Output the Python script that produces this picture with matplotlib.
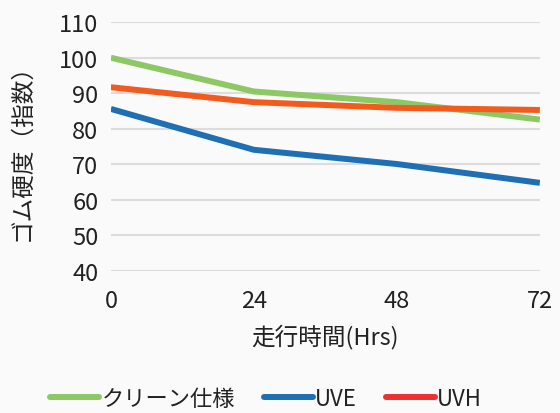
import matplotlib
matplotlib.use("Agg")
import matplotlib.pyplot as plt
from matplotlib.lines import Line2D

hours = [0, 24, 48, 72]
clean = [100.0, 90.5, 87.5, 82.6]
uve = [85.6, 74.1, 70.1, 64.8]
uvh = [91.7, 87.5, 85.9, 85.3]
series_names = ["クリーン仕様", "UVE", "UVH"]
y_ticks = [40, 50, 60, 70, 80, 90, 100, 110]

plt.rcParams["font.family"] = ["Noto Sans CJK JP", "DejaVu Sans"]

fig = plt.figure(figsize=(5.6, 4.14), dpi=100, facecolor="#fafafa")
ax = fig.add_axes([0.198, 0.343, 0.766, 0.601])
ax.set_facecolor("#fafafa")

ax.plot(hours, clean, color="#8cc864", lw=4.3, solid_capstyle="butt", zorder=3)
ax.plot(hours, uve, color="#1f6fb5", lw=4.3, solid_capstyle="butt", zorder=3)
ax.plot(hours, uvh, color="#f25a1e", lw=4.3, solid_capstyle="butt", zorder=4)

ax.set_xlim(0, 72); ax.set_ylim(40, 110)
ax.set_xticks(hours); ax.set_yticks(y_ticks)
ax.grid(axis="y", color="#dcdcdc", lw=1.5)
ax.set_axisbelow(True)
for s in ax.spines.values():
    s.set_visible(False)
ax.tick_params(length=0, labelsize=17, labelcolor="#222222")
ax.tick_params(axis="y", pad=9)
ax.tick_params(axis="x", pad=13)

ax.set_xlabel("走行時間(Hrs)", fontsize=17, color="#222222", labelpad=8)
fig.text(0.04, 0.645, "ゴム硬度（指数）", rotation=90, fontsize=17,
         color="#222222", ha="center", va="center")

handles = [Line2D([], [], color="#8cc864", lw=4.3, solid_capstyle="round"),
           Line2D([], [], color="#1f6fb5", lw=4.3, solid_capstyle="round"),
           Line2D([], [], color="#ee3030", lw=4.3, solid_capstyle="round")]
fig.legend(handles, series_names, loc="center", bbox_to_anchor=(0.475, 0.035),
           ncol=3, frameon=False, fontsize=16, handlelength=2.2,
           handletextpad=0.1, columnspacing=1.3, labelcolor="#222222",
           borderpad=0)

fig.savefig("out.png", dpi=100, facecolor=fig.get_facecolor())
